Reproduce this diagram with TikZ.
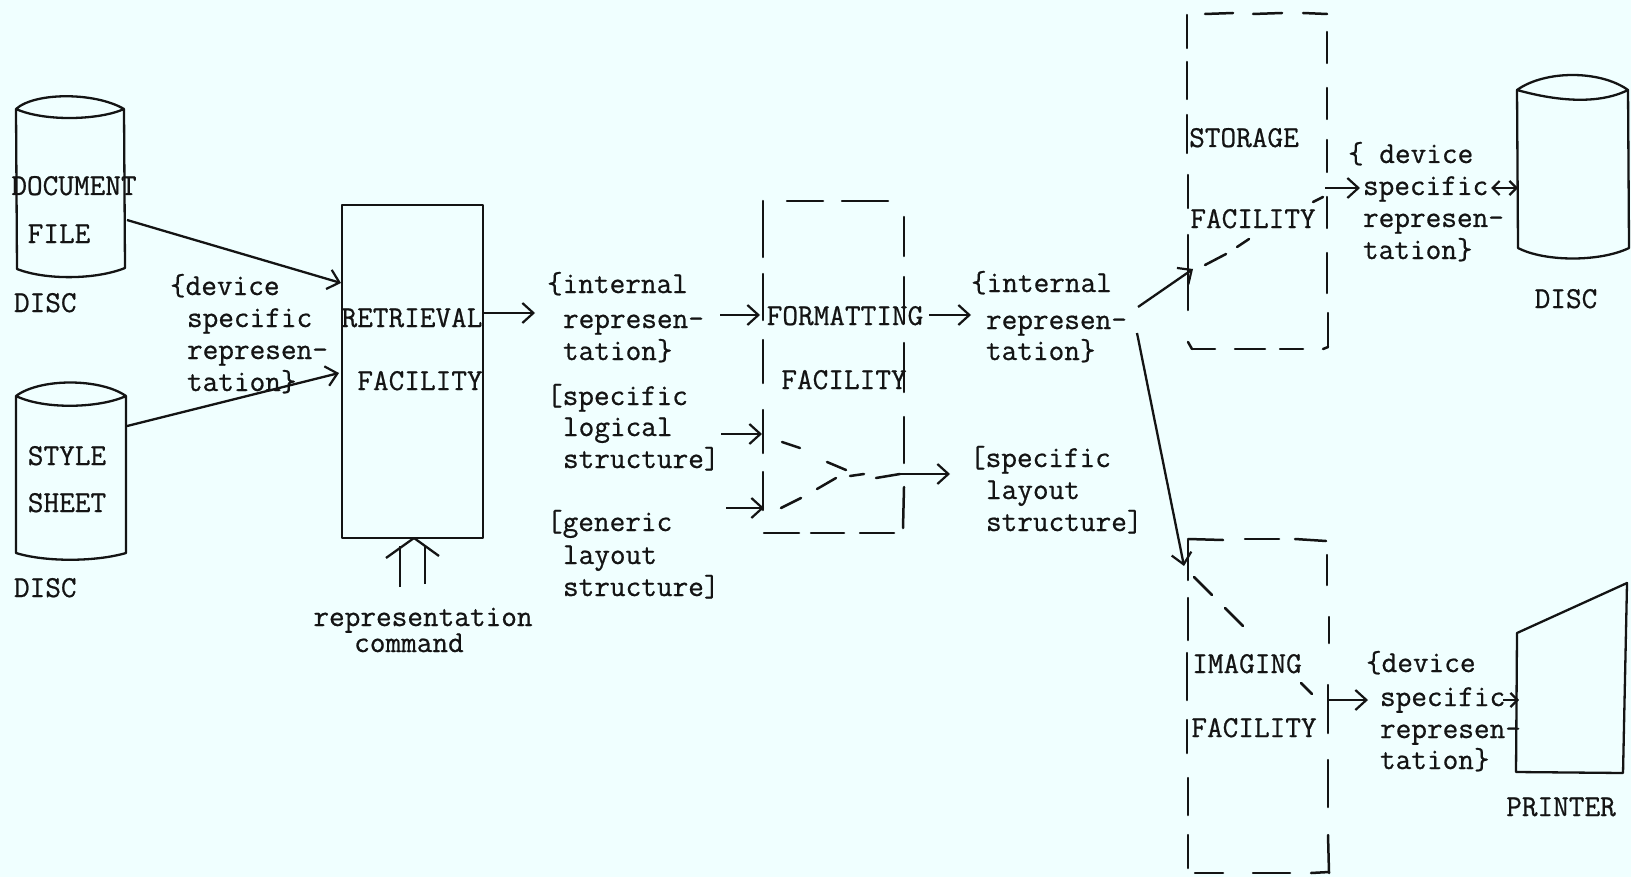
\documentclass[tikz,border=0pt]{standalone}
\usepackage{fontspec}
\usetikzlibrary{arrows.meta}
\newfontfamily\twfont{Latin Modern Mono}[FakeBold=0.7]
\definecolor{paper}{HTML}{F0FFFF}
\definecolor{ink}{HTML}{141414}
\tikzset{
  shape line/.style={draw=ink,line width=1.15pt,line join=round},
  conn/.style={draw=ink,line width=1.15pt,-{Straight Barb[length=5.5pt,width=10pt,line width=1.1pt]}},
  tiny conn/.style={draw=ink,line width=1.1pt,{Straight Barb[length=3.5pt,width=7pt]}-{Straight Barb[length=3.5pt,width=7pt]}},
  small conn/.style={draw=ink,line width=1.1pt,-{Straight Barb[length=3.5pt,width=7pt]}},
  dashline/.style={draw=ink,line width=1.25pt,line cap=round},
  lab/.style={inner sep=0pt,outer sep=0pt,text=ink,anchor=west,text height=9pt,text depth=0pt,font=\twfont\fontsize{15.2}{17}\selectfont},
  clab/.style={lab,anchor=center},
}
\begin{document}
\begin{tikzpicture}[x=0.5pt,y=-0.5pt]
\path[use as bounding box,fill=paper] (0,0) rectangle (1631,877);

% ---- cylinders (drawn shapes)
\draw[shape line] (16,109) .. controls (35,92) and (95,92) .. (124,109)
   .. controls (100,120) and (45,122) .. (16,109) -- (17,269)
   .. controls (45,280) and (95,280) .. (125,268) -- (124,109);
\draw[shape line] (16,396) .. controls (40,378) and (100,378) .. (126,396)
   .. controls (100,408) and (45,410) .. (16,396) -- (16,553)
   .. controls (45,562) and (95,562) .. (126,553) -- (126,396);
\draw[shape line] (1517,90) .. controls (1545,70) and (1600,70) .. (1628,90)
   .. controls (1600,104) and (1560,102) .. (1517,90) -- (1518,248)
   .. controls (1545,262) and (1600,262) .. (1629,248) -- (1628,90);
\path[shape line,draw] (1517,633) -- (1627,583) -- (1623,773) -- (1516,772) -- cycle;

% ---- retrieval box
\node[shape line,draw,minimum width=70.5pt,minimum height=166.5pt,inner sep=0pt,anchor=north west] (ret) at (341,204) {};

% ---- dashed facility boxes (drawn as hand-ruled segments)
\foreach \a/\b/\c/\d in {
  763/201/763/257, 763/274/763/320, 763/340/763/383, 763/410/763/453, 763/472/763/510,
  904/217/904/256, 904/277/904/320, 904/343/904/392, 904/417/904/463, 904/487/903/528,
  787/201/823/201, 842/201/888/201,
  764/533/799/533, 811/533/844/533, 860/533/894/533,
  1187/15/1187/48, 1187/62/1187/99, 1187/115/1187/153, 1188/175/1188/208, 1188/235/1188/310,
  1327/32/1327/63, 1327/88/1327/119, 1327/140/1327/172, 1327/197/1327/228, 1327/253/1327/293, 1328/313/1328/347,
  1205/14/1233/13, 1253/14/1282/13, 1303/13/1327/14,
  1192/349/1215/349, 1235/349/1265/349, 1280/349/1303/349, 1323/349/1328/347, 1188/342/1192/349,
  1188/540/1188/580, 1188/598/1188/640, 1187/653/1187/700, 1187/720/1187/753, 1188/778/1188/815, 1188/835/1188/868,
  1327/555/1327/585, 1329/617/1329/643, 1328/685/1328/733, 1328/760/1328/807, 1328/835/1329/873,
  1188/539/1223/540, 1245/539/1279/539, 1295/539/1326/541,
  1195/873/1223/873, 1253/873/1290/873, 1311/873/1329/872,
  782/442/800/448, 827/462/846/470, 850/476/864/474, 876/478/900/474,
  836/478/817/489, 801/498/781/508,
  1205/265/1226/254, 1237/247/1249/239, 1313/202/1323/197,
  1194/577/1212/595, 1225/608/1243/626, 1301/683/1312/694}
  {\draw[dashline] (\a,\b) -- (\c,\d);}

% ---- connector ends
\coordinate (docOut) at (127,220);
\coordinate (retInA) at (341,283);
\coordinate (styOut) at (127,426);
\coordinate (retInB) at (339,373);
\coordinate (retOut) at (483,313);
\coordinate (retOutEnd) at (535,313);
\coordinate (cmdA) at (400,587);
\coordinate (cmdAt) at (400,546);
\coordinate (cmdB) at (425,584);
\coordinate (cmdBt) at (425,546);
\coordinate (chevL) at (386,558);
\coordinate (chevM) at (414,538);
\coordinate (chevR) at (439,556);
\coordinate (fmtInAs) at (720,315);
\coordinate (fmtInA) at (760,315);
\coordinate (fmtInBs) at (721,434);
\coordinate (fmtInB) at (762,434);
\coordinate (fmtInCs) at (726,508);
\coordinate (fmtInC) at (764,508);
\coordinate (fmtOutS) at (929,315);
\coordinate (fmtOutE) at (971,315);
\coordinate (layS) at (900,474);
\coordinate (layE) at (950,474);
\coordinate (splitA) at (1138,307);
\coordinate (stoIn) at (1193,269);
\coordinate (splitB) at (1137,333);
\coordinate (imgIn) at (1184,566);
\coordinate (stoOut) at (1325,188);
\coordinate (stoOutE) at (1360,188);
\coordinate (discS) at (1491,188);
\coordinate (discE) at (1518,188);
\coordinate (imgOut) at (1328,700);
\coordinate (imgOutE) at (1368,700);
\coordinate (prnS) at (1503,700);
\coordinate (prnE) at (1519,700);

\draw[conn] (docOut) -- (retInA);
\draw[conn] (styOut) -- (retInB);
\draw[conn] (retOut) -- (retOutEnd);
\draw[shape line] (cmdA) -- (cmdAt);
\draw[shape line] (cmdB) -- (cmdBt);
\draw[shape line] (chevL) -- (chevM) -- (chevR);
\draw[conn] (fmtInAs) -- (fmtInA);
\draw[conn] (fmtInBs) -- (fmtInB);
\draw[conn] (fmtInCs) -- (fmtInC);
\draw[conn] (fmtOutS) -- (fmtOutE);
\draw[conn] (layS) -- (layE);
\draw[conn] (splitA) -- (stoIn);
\draw[conn] (splitB) -- (imgIn);
\draw[conn] (stoOut) -- (stoOutE);
\draw[tiny conn] (discS) -- (discE);
\draw[conn] (imgOut) -- (imgOutE);
\draw[small conn] (prnS) -- (prnE);

% ---- labels
\node[clab] (docA) at (74,186) {DOCUMENT};
\node[clab] (docB) at (59,234) {FILE};
\node[lab] (discA) at (14,303) {DISC};
\node[clab] (styA) at (67,456) {STYLE};
\node[clab] (styB) at (67,503) {SHEET};
\node[lab] (discB) at (14,588) {DISC};
\node[lab] (d1a) at (170,286) {\{device};
\node[lab] (d1b) at (187,318) {specific};
\node[lab] (d1c) at (187,350) {represen-};
\node[lab] (d1d) at (187,382) {tation\}};
\node[clab] (retA) at (412,318) {RETRIEVAL};
\node[clab] (retB) at (420,381) {FACILITY};
\node[clab] (cmdT) at (423,617) {representation};
\node[clab] (cmdU) at (409,643) {command};
\node[lab] (i1a) at (547,284) {\{internal};
\node[lab] (i1b) at (563,319) {represen-};
\node[lab] (i1c) at (563,351) {tation\}};
\node[lab] (s1a) at (547,396) {[specific};
\node[lab] (s1b) at (563,427) {logical};
\node[lab] (s1c) at (563,459) {structure]};
\node[lab] (g1a) at (547,522) {[generic};
\node[lab] (g1b) at (563,555) {layout};
\node[lab] (g1c) at (563,587) {structure]};
\node[clab] (fmtA) at (845,316) {FORMATTING};
\node[clab] (fmtB) at (844,380) {FACILITY};
\node[lab] (i2a) at (971,283) {\{internal};
\node[lab] (i2b) at (986,320) {represen-};
\node[lab] (i2c) at (986,351) {tation\}};
\node[lab] (l2a) at (970,458) {[specific};
\node[lab] (l2b) at (986,490) {layout};
\node[lab] (l2c) at (986,522) {structure]};
\node[clab] (stoA) at (1244,138) {STORAGE};
\node[clab] (stoB) at (1253,219) {FACILITY};
\node[lab] (d2a) at (1348,154) {\{ device};
\node[lab] (d2b) at (1363,186) {specific};
\node[lab] (d2c) at (1363,218) {represen-};
\node[lab] (d2d) at (1363,250) {tation\}};
\node[clab] (discC) at (1566,299) {DISC};
\node[clab] (imgA) at (1247,664) {IMAGING};
\node[clab] (imgB) at (1254,728) {FACILITY};
\node[lab] (d3a) at (1366,663) {\{device};
\node[lab] (d3b) at (1380,697) {specific};
\node[lab] (d3c) at (1380,729) {represen-};
\node[lab] (d3d) at (1380,760) {tation\}};
\node[clab] (prn) at (1561,807) {PRINTER};
\end{tikzpicture}
\end{document}
